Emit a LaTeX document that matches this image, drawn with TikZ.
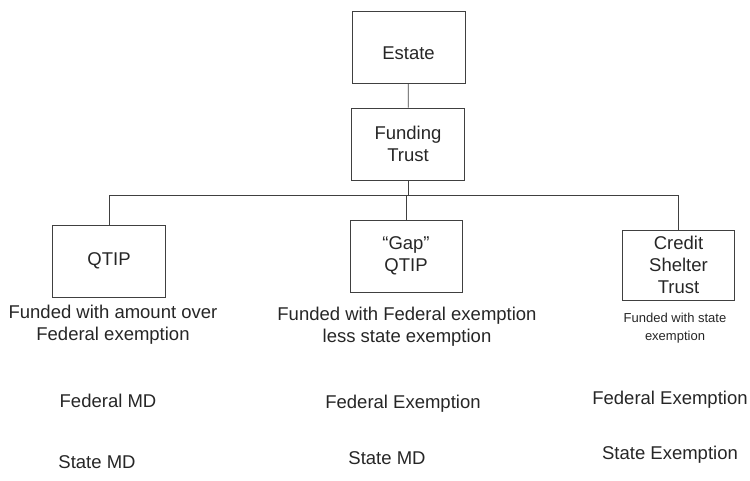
\documentclass[tikz,border=0pt]{standalone}
\usepackage{fontspec}
\setmainfont{Liberation Sans}
\usepackage{tikz}
\usetikzlibrary{calc,positioning}
\tikzset{
    trustbox/.style={
    rectangle,draw=black!75,line width=0.7pt,align=center,
    minimum width=113pt,minimum height=72pt,inner sep=2pt
    },
    note/.style={
    align=center,inner sep=0pt
    },
    smallnote/.style={
    align=center,inner sep=0pt,font=\fontsize{13}{18}\selectfont
    },
    wire/.style={
    draw=black!75,line width=0.7pt
    },
}
\begin{document}
\begin{tikzpicture}[x=1pt,y=-1pt,font=\fontsize{18.5}{22}\selectfont,text=black!85]
   \useasboundingbox (0,0) rectangle (750,481);
   \node[trustbox] (ESTATE) at (408.5,47.5) {\raisebox{-12.5pt}[0pt][0pt]{Estate}};
   \node[trustbox] (FT) at (408,144) {Funding\\Trust};
   \node[trustbox] (QTIP) at (109,261) {QTIP};
   \node[trustbox,minimum width=112pt] (GQTIP) at (406,256) {``Gap''\\QTIP};
   \node[trustbox,minimum width=112pt,minimum height=70pt] (CST) at (678.5,265) {Credit\\Shelter\\Trust};

   % what each trust is funded with
   \node[note] (QTIPfund) at (113,325) {Funded with amount over\\Federal exemption};
   \node[note] (GQTIPfund) at (407,327) {Funded with Federal exemption\\less state exemption};
   \node[smallnote] (CSTfund) at (675,328) {Funded with state\\exemption};

   \node[note] (QTIPfed) at (108,401) {Federal MD};
   \node[note] (QTIPst) at (97,462) {State MD};
   \node[note] (GQTIPfed) at (403,404) {Federal Exemption};
   \node[note] (GQTIPst) at (387,458) {State MD};
   \node[note] (CSTfed) at (670,400) {Federal Exemption};
   \node[note] (CSTst) at (670,455) {State Exemption};

   \path[wire]
    (ESTATE) edge (FT);
   \draw[wire] (FT.south) -- ++(0,15) coordinate (split);
   \draw[wire] (QTIP.north) |- (split) -| (CST.north);
   \draw[wire] (GQTIP.north) -- (GQTIP.north |- split);
\end{tikzpicture}
\end{document}
